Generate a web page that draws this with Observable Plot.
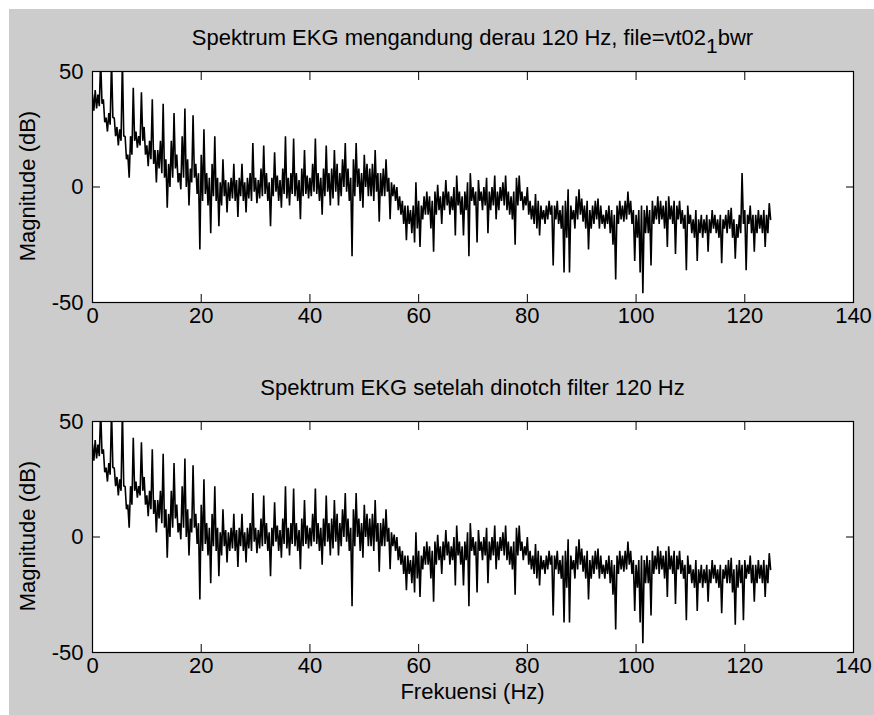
<!DOCTYPE html>
<html>
<head>
<meta charset="utf-8">
<script src="https://cdn.jsdelivr.net/npm/d3@7"></script>
<script src="https://cdn.jsdelivr.net/npm/@observablehq/plot@0.6"></script>
<style>
  body { margin: 0; background: #ffffff; }
  #fig { position: relative; width: 874px; height: 715px; background: #ffffff; overflow: hidden;
         font-family: "Liberation Sans", Arial, sans-serif; color: #000; }
  #bg { position: absolute; left: 9px; top: 9px; width: 865px; height: 706px; background: #cccccc; }
  .panel { position: absolute; left: 0; }
  .title, .xlabel { position: absolute; left: 92px; width: 761px; text-align: center; font-size: 22px; line-height: 22px; white-space: nowrap; }
  .ylabel { position: absolute; font-size: 22px; line-height: 22px; white-space: nowrap;
            transform: translate(-50%, -50%) rotate(-90deg); }
  .sub { position: relative; top: 0.38em; font-size: 0.95em; }
</style>
</head>
<body>
<div id="fig">
  <div id="bg"></div>
</div>
<script>
// Frequency bins every 0.5 Hz (0 .. 124.5 Hz); for each bin the upper (hi) and lower (lo)
// extent of the dense spectrum trace, in dB.
const binWidthHz = 0.5;

const rawHi = [
  40, 42, 40, 55, 38, 30, 32, 55, 30, 26,
  25, 55, 22, 14, 22, 43, 24, 22, 41, 26,
  18, 20, 38, 16, 16, 20, 36, 12, 10, 20,
  32, 14, 6, 22, 34, 12, 8, 31, 10, 6,
  14, 25, 6, 4, 10, 22, 4, 2, 12, 3,
  2, 4, 10, 3, 4, 10, 2, 4, 6, 19,
  4, 3, 8, 18, 6, 2, 4, 15, 5, 3,
  8, 22, 4, 6, 21, 6, 3, 8, 16, 5,
  4, 10, 21, 6, 4, 8, 18, 6, 8, 16,
  10, 6, 12, 19, 8, 4, 12, 19, 8, 6,
  14, 10, 8, 10, 16, 6, 6, 8, 12, 4,
  2, 1, 0, -4, -6, -8, -8, -10, -8, 2,
  -6, -8, -4, -2, -4, -6, -2, 1, -4, -2,
  3, -2, -4, 0, 5, -2, -4, -2, 2, 6,
  0, -2, 3, -2, 0, 4, -2, 0, 5, -2,
  0, 2, 5, -2, -4, -2, 4, 5, -2, -4,
  0, -6, -8, -3, -6, -8, -10, -8, -6, -8,
  -8, -6, -10, -8, -6, -1, -8, -10, -4, -1,
  -5, -8, -6, -10, -8, -6, -5, -8, -12, -10,
  -8, -10, -12, -8, -6, -8, -6, -2, -6, -10,
  -12, -10, -8, -10, -8, -10, -6, -8, -4, -6,
  -8, -6, -4, -8, -6, -8, -6, -10, -12, -8,
  -12, -14, -10, -14, -12, -14, -12, -14, -10, -12,
  -14, -12, -14, -12, -10, -9, -14, -16, -12, 6,
  -10, -12, -8, -12, -12, -10, -12, -10, -12, -7
];

const rawLo = [
  33, 34, 35, 36, 28, 24, 27, 30, 22, 18,
  20, 22, 12, 4, 14, 20, 17, 18, 20, 14,
  9, 12, 10, 2, 8, 6, 4, -9, 0, 4,
  8, 2, -1, 4, 0, -8, 2, 4, -3, -27,
  -6, -3, -8, -20, -4, -6, -17, -8, -4, -11,
  -6, -5, -6, -13, -4, -6, -11, -5, -6, -2,
  -7, -5, -4, -3, -6, -17, -4, -2, -6, -9,
  -3, -5, -8, -3, -4, -6, -14, -4, -3, -5,
  -4, -2, -3, -6, -12, -4, -2, -8, -5, -2,
  -8, -4, 0, -2, -6, -30, -4, 0, -6, -9,
  0, -4, -4, -6, -2, -15, -4, -4, -2, -14,
  -4, -6, -10, -12, -16, -23, -16, -20, -24, -18,
  -26, -14, -12, -12, -18, -28, -12, -10, -16, -10,
  -8, -12, -10, -21, -8, -12, -21, -10, -30, -6,
  -8, -24, -6, -10, -8, -20, -10, -8, -14, -10,
  -6, -8, -10, -12, -14, -25, -8, -6, -10, -8,
  -12, -14, -16, -18, -21, -14, -16, -14, -12, -34,
  -14, -16, -18, -37, -22, -37, -14, -18, -14, -12,
  -15, -18, -27, -18, -16, -14, -18, -16, -18, -16,
  -20, -25, -40, -16, -14, -15, -14, -12, -16, -32,
  -22, -37, -46, -20, -20, -34, -16, -14, -16, -14,
  -18, -26, -14, -16, -29, -14, -16, -18, -36, -16,
  -20, -22, -32, -20, -22, -20, -28, -20, -18, -20,
  -22, -33, -18, -20, -18, -22, -31, -22, -20, -16,
  -36, -16, -20, -28, -20, -18, -20, -26, -20, -14
];

// After the 120 Hz notch filter: bins from 115 Hz to 124.5 Hz differ (no 120 Hz spike).
const notchStartHz = 115;
const notchHiTail = [-14, -12, -14, -12, -10, -9, -14, -12, -10, -12, -10, -12, -8, -12, -12, -10, -12, -10, -12, -7];
const notchLoTail = [-22, -33, -18, -20, -20, -24, -38, -22, -20, -36, -18, -16, -20, -28, -20, -18, -20, -26, -20, -14];

const xTicks = [0, 20, 40, 60, 80, 100, 120, 140];
const yTicks = [-50, 0, 50];
const titles = ["Spektrum EKG mengandung derau 120 Hz, file=vt02", "Spektrum EKG setelah dinotch filter 120 Hz"];
const xLabel = "Frekuensi (Hz)";
const yLabel = "Magnitude (dB)";

const cut = Math.round(notchStartHz / binWidthHz);
const notchHi = rawHi.slice(0, cut).concat(notchHiTail);
const notchLo = rawLo.slice(0, cut).concat(notchLoTail);

function traceRows(hi, lo) {
  const rows = [];
  for (let i = 0; i < hi.length; i++) {
    rows.push({f: i * binWidthHz, m: hi[i]});
    rows.push({f: i * binWidthHz + binWidthHz / 2, m: lo[i]});
  }
  return rows;
}

function panel(hi, lo, height, marginBottom) {
  return Plot.plot({
    width: 874,
    height,
    marginLeft: 92,
    marginRight: 21,
    marginTop: 71,
    marginBottom,
    style: {background: "transparent", fontFamily: "'Liberation Sans', Arial, sans-serif", fontSize: "22px", color: "#000", overflow: "visible"},
    x: {domain: [0, 140]},
    y: {domain: [-50, 50]},
    marks: [
      Plot.frame({fill: "white", stroke: null}),
      Plot.line(traceRows(hi, lo), {x: "f", y: "m", stroke: "black", strokeWidth: 1.6, strokeLinejoin: "miter", strokeMiterlimit: 1, clip: true}),
      Plot.frame({stroke: "black", strokeWidth: 1.2}),
      Plot.axisX({anchor: "bottom", ticks: xTicks, tickSize: -8, tickPadding: 13, label: null, tickFormat: d => String(d)}),
      Plot.axisX({anchor: "top", ticks: xTicks, tickSize: -8, label: null, tickFormat: () => ""}),
      Plot.axisY({anchor: "left", ticks: yTicks, tickSize: -8, tickPadding: 17, label: null, tickFormat: d => String(d)}),
      Plot.axisY({anchor: "right", ticks: yTicks, tickSize: -8, label: null, tickFormat: () => ""})
    ]
  });
}

const fig = document.getElementById("fig");

const p1 = panel(rawHi, rawLo, 350, 48);
p1.classList.add("panel");
p1.style.top = "0px";
fig.appendChild(p1);

const p2 = panel(notchHi, notchLo, 365, 63);
p2.classList.add("panel");
p2.style.top = "350px";
fig.appendChild(p2);

function addDiv(cls, text, css) {
  const d = document.createElement("div");
  d.className = cls;
  if (text instanceof Node) d.appendChild(text); else d.textContent = text;
  Object.assign(d.style, css);
  fig.appendChild(d);
  return d;
}

const t1 = addDiv("title", titles[0], {top: "27px"});
const sub = document.createElement("span");
sub.className = "sub";
sub.textContent = "1";
t1.appendChild(sub);
t1.appendChild(document.createTextNode("bwr"));
addDiv("title", titles[1], {top: "377px"});
addDiv("xlabel", xLabel, {top: "681px"});
addDiv("ylabel", yLabel, {left: "28px", top: "186px"});
addDiv("ylabel", yLabel, {left: "28px", top: "536px"});
</script>
</body>
</html>
